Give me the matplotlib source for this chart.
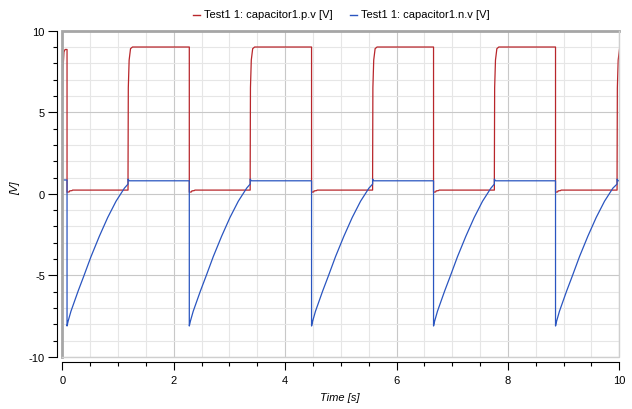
import numpy as np
import matplotlib
matplotlib.use("Agg")
import matplotlib.pyplot as plt
from matplotlib.lines import Line2D

plt.rcParams['font.family'] = ['Liberation Sans', 'DejaVu Sans']
plt.rcParams['font.size'] = 8

# switching instants [s]
drop_times = [0.085, 2.28, 4.475, 6.665, 8.855]
rise_times = [1.18, 3.373, 5.571, 7.757, 9.96]
t_end = 10.0

# capacitor1.p.v levels [V]
red_start_t = [0.0, 0.0, 0.01, 0.03, 0.05]
red_start_v = [0.0, 4.3, 7.5, 8.7, 8.85]
red_high = 9.0
red_after_drop_dt = [0.0, 0.04, 0.045, 0.09, 0.1]
red_after_drop_v = [0.1, 0.12, 0.18, 0.2, 0.23]
red_low = 0.23
red_rise_dt = [0.0, 0.005, 0.02, 0.045, 0.08]
red_rise_v = [1.2, 6.5, 8.2, 8.9, 9.0]

# capacitor1.n.v levels [V]
blue_start_t = [0.0, 0.0]
blue_start_v = [0.0, 0.85]
blue_high = 0.8
blue_rec_dt = [0.0, 0.02, 0.07, 0.2, 0.3, 0.43, 0.58, 0.73, 0.88, 1.03]
blue_rec_v = [-8.1, -7.8, -7.2, -5.95, -5.05, -3.85, -2.6, -1.45, -0.45, 0.35]
blue_pre_rise = 0.6
blue_rise_peak = 0.9

RED = '#b8262b'
BLUE = '#2a55c0'


def build_red():
    t, v = list(red_start_t), list(red_start_v)
    for i, td in enumerate(drop_times):
        t.append(td); v.append(v[-1])
        t += [td + d for d in red_after_drop_dt]; v += red_after_drop_v
        tr = rise_times[i]
        t.append(tr); v.append(red_low)
        t += [tr + d for d in red_rise_dt]; v += red_rise_v
    t.append(t_end + 0.2); v.append(red_high)
    return np.array(t), np.array(v)


def build_blue():
    t, v = list(blue_start_t), list(blue_start_v)
    for i, td in enumerate(drop_times):
        t.append(td); v.append(v[-1])
        t += [td + d for d in blue_rec_dt]; v += blue_rec_v
        tr = rise_times[i]
        t += [tr, tr, tr + 0.02]; v += [blue_pre_rise, blue_rise_peak, blue_high]
    t.append(t_end + 0.2); v.append(blue_high)
    return np.array(t), np.array(v)


fig = plt.figure(figsize=(6.32, 4.10), dpi=100)
W, H = 632, 410
x0, x1, y0, y1 = 62.3, 619.3, 31.7, 358.0
ax = fig.add_axes([x0 / W, 1 - y1 / H, (x1 - x0) / W, (y1 - y0) / H])

tr_, vr_ = build_red()
tb_, vb_ = build_blue()
ax.plot(tr_, vr_, color=RED, lw=0.9, zorder=3)
ax.plot(tb_, vb_, color=BLUE, lw=0.9, zorder=3)

ax.set_xlim(0, 10)
ax.set_ylim(-10, 10)
ax.set_xticks(np.arange(0, 11, 2))
ax.set_xticks(np.arange(0, 10.01, 0.5), minor=True)
ax.set_yticks([-10, -5, 0, 5, 10])
ax.set_yticks(np.arange(-10, 11, 1), minor=True)
ax.set_yticklabels(['-10', '-5', '0', '5', '10'])

ax.grid(which='major', color='#c8c8c8', lw=0.8, zorder=0)
ax.grid(which='minor', color='#e6e6e6', lw=0.8, zorder=0)
ax.set_axisbelow(True)

for s in ['top', 'right']:
    ax.spines[s].set_visible(False)
ax.spines['left'].set_position(('outward', 4))
ax.spines['bottom'].set_position(('outward', 3.8))
ax.spines['left'].set_linewidth(0.8)
ax.spines['bottom'].set_linewidth(0.8)

ax.tick_params(axis='y', which='major', length=6.5, width=0.8, pad=2)
ax.tick_params(axis='y', which='minor', length=3.2, width=0.8)
ax.tick_params(axis='x', which='major', length=5.8, width=0.8, pad=3.5)
ax.tick_params(axis='x', which='minor', length=3.0, width=0.8)

# plot frame: heavy on top/left, light on bottom/right
ax.add_line(Line2D([0, 0, 1], [0, 1, 1], transform=ax.transAxes,
                   color='#a6a6a6', lw=2.0, clip_on=False, zorder=4,
                   solid_joinstyle='miter'))
ax.add_line(Line2D([0, 1, 1], [0, 0, 1], transform=ax.transAxes,
                   color='#cfcfcf', lw=1.0, clip_on=False, zorder=4))

# axis titles
fig.text(15 / W, 1 - 188 / H, '[V]', rotation=90, style='italic',
         ha='center', va='center', fontsize=8)
fig.text(340 / W, 1 - 398 / H, 'Time [s]', style='italic',
         ha='center', va='center', fontsize=8)

# legend across the top
ly = 1 - 15.5 / H
fig.add_artist(Line2D([193 / W, 200 / W], [ly, ly], color=RED, lw=1.0))
fig.text(204 / W, ly, 'Test1 1: capacitor1.p.v [V]', ha='left', va='center', fontsize=8)
fig.add_artist(Line2D([350 / W, 357 / W], [ly, ly], color=BLUE, lw=1.0))
fig.text(361 / W, ly, 'Test1 1: capacitor1.n.v [V]', ha='left', va='center', fontsize=8)

fig.savefig('out.png', dpi=100)
